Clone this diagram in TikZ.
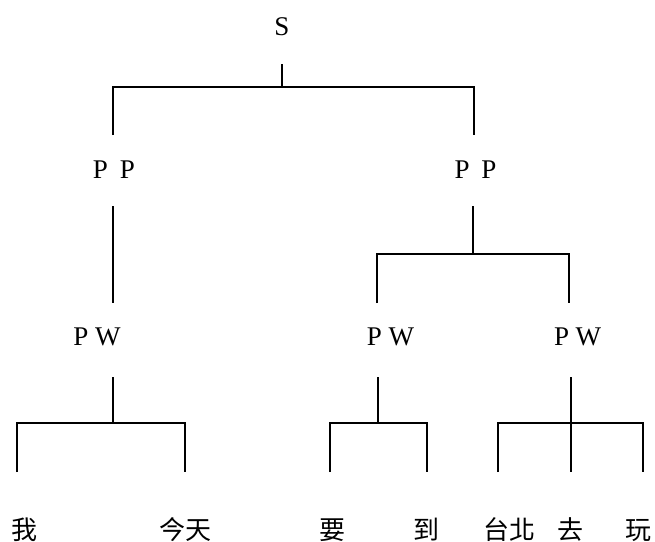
\documentclass[tikz,border=0pt]{standalone}
\usepackage{fontspec}
\setmainfont{Liberation Serif}
\newfontfamily\cjk{Noto Sans CJK TC}
\newcommand\fwch[1]{\makebox[27pt]{#1}}
\begin{document}
\begin{tikzpicture}[x=1pt,y=-1pt,
  lat/.style={font=\fontsize{27}{27}\selectfont, inner sep=0pt, anchor=base},
  zh/.style={font=\cjk\fontsize{26}{26}\selectfont, inner sep=0pt, anchor=base},
  br/.style={line width=1.6pt}]
\useasboundingbox (0,0) rectangle (655,541);
% labels
\node[lat] (S)   at (282,35)  {S};
\node[lat] (PP1) at (114,178) {\fwch{P}\fwch{P}};
\node[lat] (PP2) at (475.5,178) {\fwch{P}\fwch{P}};
\node[lat] (PW1) at (94.5,345) {\fwch{P}\fwch{W}};
\node[lat] (PW2) at (388,345) {\fwch{P}\fwch{W}};
\node[lat] (PW3) at (575,345) {\fwch{P}\fwch{W}};
\node[zh] (w1) at (24,539)  {我};
\node[zh] (w2) at (185,539) {今天};
\node[zh] (w3) at (332,539) {要};
\node[zh] (w4) at (426,539) {到};
\node[zh] (w5) at (509,539) {台北};
\node[zh] (w6) at (570,539) {去};
\node[zh] (w7) at (638,539) {玩};
% connector end points
\coordinate (sT) at (282,64);
\coordinate (sJ) at (282,87);
\coordinate (sL) at (113,135);
\coordinate (sR) at (474,135);
\coordinate (p1T) at (113,206);
\coordinate (p1B) at (113,303);
\coordinate (p2T) at (473,206);
\coordinate (p2J) at (473,254);
\coordinate (p2L) at (377,303);
\coordinate (p2R) at (569,303);
\coordinate (q1T) at (113,377);
\coordinate (q1J) at (113,423);
\coordinate (q1L) at (17,472);
\coordinate (q1R) at (185,472);
\coordinate (q2T) at (378,377);
\coordinate (q2J) at (378,423);
\coordinate (q2L) at (330,472);
\coordinate (q2R) at (427,472);
\coordinate (q3T) at (571,377);
\coordinate (q3J) at (571,423);
\coordinate (q3B) at (571,472);
\coordinate (q3L) at (498,472);
\coordinate (q3R) at (643,472);
% connectors
\draw[br] (sT) -- (sJ);
\draw[br] (sL) |- (sJ) -| (sR);
\draw[br] (p1T) -- (p1B);
\draw[br] (p2T) -- (p2J);
\draw[br] (p2L) |- (p2J) -| (p2R);
\draw[br] (q1T) -- (q1J);
\draw[br] (q1L) |- (q1J) -| (q1R);
\draw[br] (q2T) -- (q2J);
\draw[br] (q2L) |- (q2J) -| (q2R);
\draw[br] (q3T) -- (q3B);
\draw[br] (q3L) |- (q3J) -| (q3R);
\end{tikzpicture}
\end{document}
